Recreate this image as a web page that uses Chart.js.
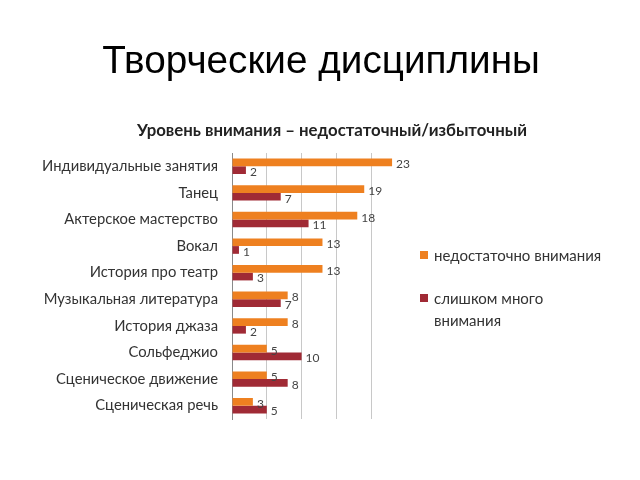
<!DOCTYPE html>
<html>
<head>
<meta charset="utf-8">
<script src="https://cdn.jsdelivr.net/npm/chart.js@4.4.1/dist/chart.umd.min.js"></script>
<style>
  body { margin: 0; background: #fff; }
  #wrap { position: relative; width: 640px; height: 480px; }
  .title { position: absolute; left: 0; width: 640px; text-align: center; white-space: nowrap; }
  #title { top: 37px; font-family: 'Liberation Sans', sans-serif; font-size: 38.7px; line-height: 46px; color: #000; left: 1px; }
  #subtitle { top: 119px; font-family: Lato, sans-serif; font-size: 16.8px; font-weight: bold; line-height: 22px; color: #222; left: 12px; }
  #legend { position: absolute; left: 420px; top: 244px; font-family: Lato, sans-serif; font-size: 15px; color: #333; }
  #legend .item { display: flex; align-items: flex-start; margin-bottom: 21px; width: 190px; line-height: 22px; }
  #legend .box { width: 8px; height: 8px; margin: 7px 6px 0 0; flex: none; }
</style>
</head>
<body>
<div id="wrap">
  <canvas id="chartBar" width="640" height="480"></canvas>
  <div class="title" id="title"></div>
  <div class="title" id="subtitle"></div>
  <div id="legend"></div>
</div>
<script>
  // Данные
  const chartTitle = 'Творческие дисциплины';
  const chartSubtitle = 'Уровень внимания – недостаточный/избыточный';
  const categories = ['Индивидуальные занятия', 'Танец', 'Актерское мастерство', 'Вокал', 'История про театр',
    'Музыкальная литература', 'История джаза', 'Сольфеджио', 'Сценическое движение', 'Сценическая речь'];
  const notEnough = [23, 19, 18, 13, 13, 8, 8, 5, 5, 3];
  const tooMuch = [2, 7, 11, 1, 3, 7, 2, 10, 8, 5];
  const seriesNames = ['недостаточно внимания', 'слишком много внимания'];
  const colors = ['#ee8020', '#a02a35'];

  document.getElementById('title').textContent = chartTitle;
  document.getElementById('subtitle').textContent = chartSubtitle;

  // подписи значений справа от столбцов
  const valueLabels = {
    id: 'valueLabels',
    afterDatasetsDraw(chart) {
      const ctx = chart.ctx;
      ctx.save();
      ctx.font = '12px Lato, sans-serif';
      ctx.fillStyle = '#444';
      ctx.textBaseline = 'middle';
      chart.data.datasets.forEach((ds, i) => {
        chart.getDatasetMeta(i).data.forEach((bar, j) => {
          ctx.fillText(ds.data[j], bar.x + 4, bar.y + 2);
        });
      });
      ctx.restore();
    }
  };

  const Bar = document.getElementById('chartBar').getContext('2d');
  const chartBar = new Chart(Bar, {
    type: 'bar',
    data: {
      labels: categories,
      datasets: [
        { label: seriesNames[0], data: notEnough, backgroundColor: colors[0] },
        { label: seriesNames[1], data: tooMuch, backgroundColor: colors[1] }
      ]
    },
    options: {
      indexAxis: 'y',
      responsive: false,
      animation: false,
      categoryPercentage: 0.58,
      barPercentage: 1,
      layout: { padding: { left: 0, right: 234, top: 153, bottom: 61 } },
      plugins: {
        legend: { display: false },
        tooltip: { enabled: false }
      },
      scales: {
        x: {
          min: 0,
          max: 25,
          ticks: { display: false, stepSize: 5 },
          grid: {
            drawTicks: false,
            color: c => (c.tick.value === 0 || c.tick.value === 25) ? 'rgba(0,0,0,0)' : '#c8c8c8'
          },
          border: { display: false },
          afterFit: s => { s.height = 0; }
        },
        y: {
          ticks: { color: '#333', font: { family: 'Lato', size: 14.8 }, padding: 14 },
          grid: { display: false, drawTicks: false },
          border: { display: true, color: '#8a8a8a' },
          afterFit: s => { s.width = 232; }
        }
      }
    },
    plugins: [valueLabels]
  });

  // легенда справа
  const legend = document.getElementById('legend');
  seriesNames.forEach((name, i) => {
    const item = document.createElement('div');
    item.className = 'item';
    item.innerHTML = '<span class="box" style="background:' + colors[i] + '"></span><span>' + name + '</span>';
    legend.appendChild(item);
  });
</script>
</body>
</html>
